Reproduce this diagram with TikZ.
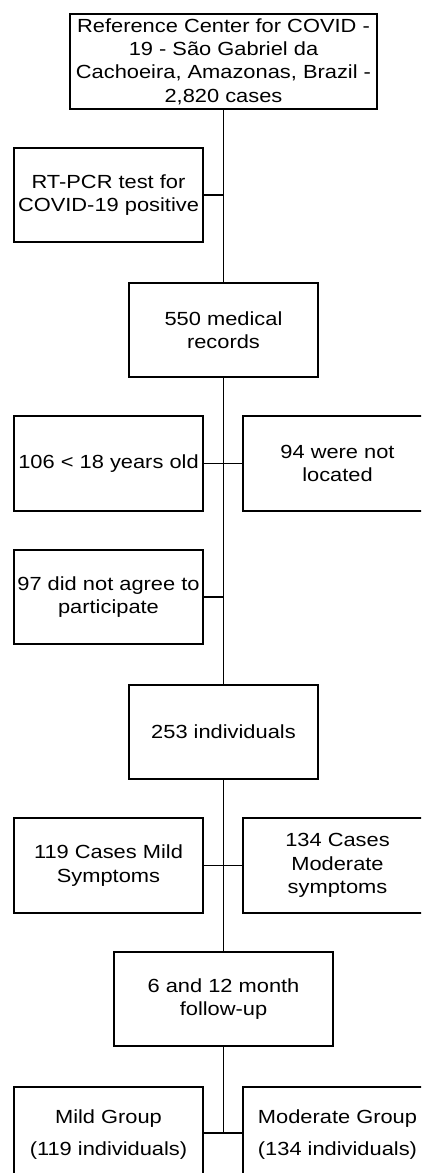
\documentclass[tikz,border=0pt]{standalone}
\usepackage{fontspec}
\setmainfont{Liberation Sans}[FakeStretch=1.15]
\begin{document}
\begin{tikzpicture}[x=1pt,y=-1pt,
  box/.style={draw=black, line width=1.6pt, inner sep=0pt, align=center, minimum width=189pt, minimum height=94.5pt, font=\fontsize{19}{23.3}\selectfont},
  link/.style={draw=black, line width=1.6pt}]
\useasboundingbox (0,0) rectangle (421,1173);
\clip (0,0) rectangle (421,1173);
\node[box, minimum width=307pt] (top) at (223.5,61.5) {Reference Center for COVID -\\19 - São Gabriel da\\Cachoeira, Amazonas, Brazil -\\2,820 cases};
\node[box] (rt) at (108.5,195) {RT-PCR test for\\COVID-19 positive};
\node[box] (n550) at (223.5,330) {550 medical\\records};
\node[box] (n106) at (108.5,463.5) {106 < 18 years old};
\node[box] (n94) at (337.5,463.5) {94 were not\\located};
\node[box] (n97) at (108.5,597) {97 did not agree to\\participate};
\node[box] (n253) at (223.5,732) {253 individuals};
\node[box] (n119) at (108.5,865.5) {119 Cases Mild\\Symptoms};
\node[box] (n134) at (337.5,865.5) {134 Cases\\Moderate\\symptoms};
\node[box, minimum width=219pt] (fu) at (223.5,999) {6 and 12 month\\follow-up};
\node[box] (mild) at (108.5,1134.5) {Mild Group\\[8pt](119 individuals)};
\node[box] (mod) at (337.5,1134.5) {Moderate Group\\[8pt](134 individuals)};
\coordinate (jm) at (223.5,1133);
\draw[link] (top.south) -- (n550.north);
\draw[link] (rt.east) -- (rt.east -| top.south);
\draw[link] (n550.south) -- (n253.north);
\draw[link] (n106.east) -- (n94.west);
\draw[link] (n97.east) -- (n97.east -| n550.south);
\draw[link] (n253.south) -- (fu.north);
\draw[link] (n119.east) -- (n134.west);
\draw[link] (fu.south) -- (jm);
\draw[link] (mild.east |- jm) -- (mod.west |- jm);
\end{tikzpicture}
\end{document}
